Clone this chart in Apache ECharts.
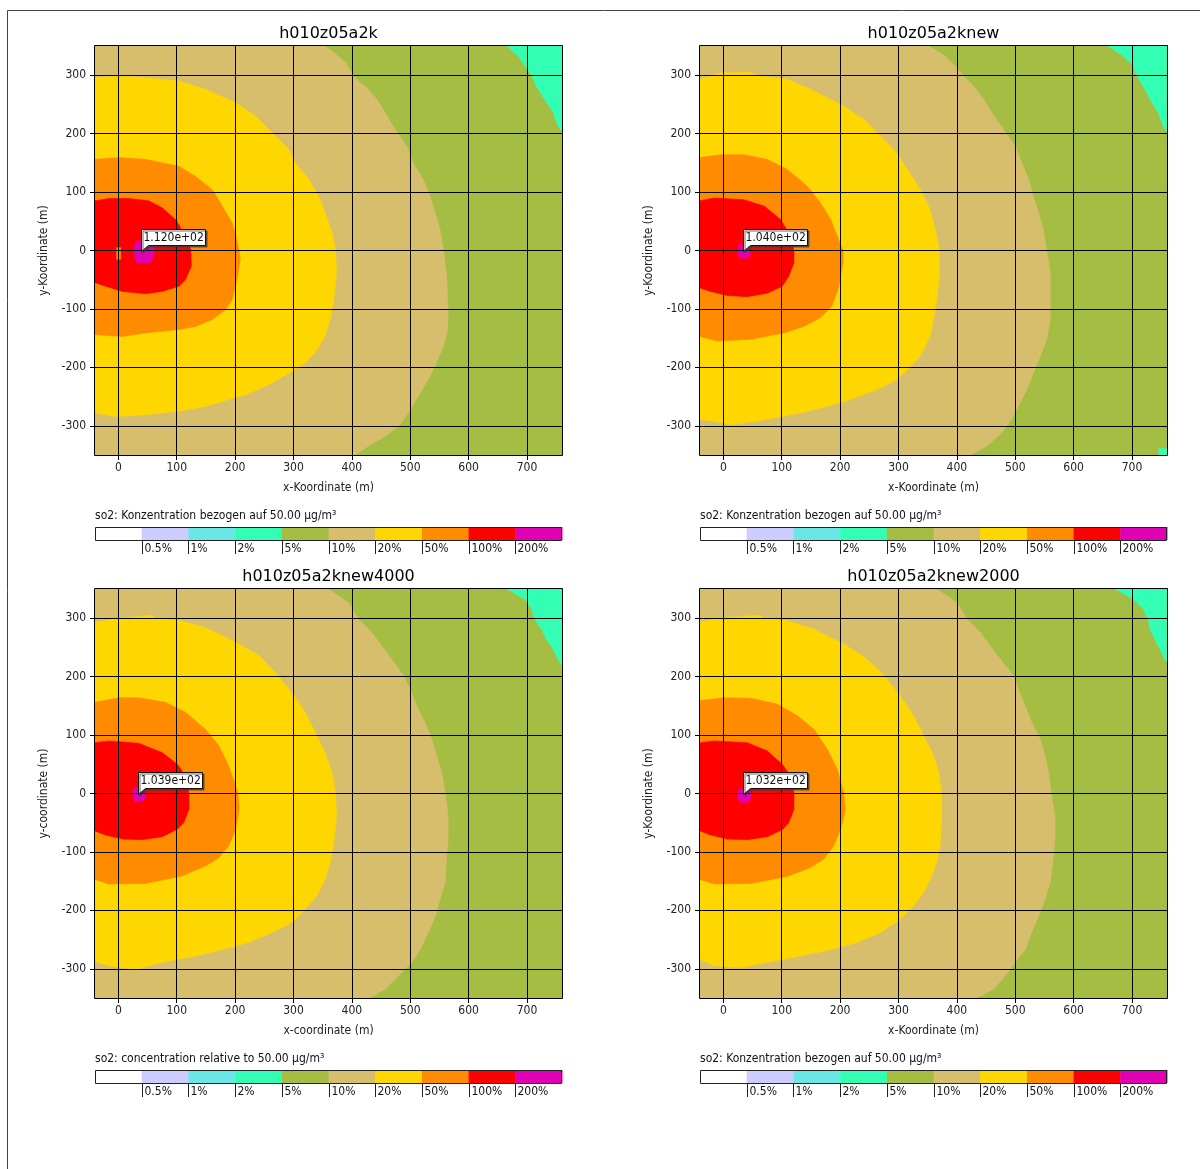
<!DOCTYPE html>
<html>
<head>
<meta charset="utf-8">
<title>so2 Konzentration</title>
<script src="https://cdn.jsdelivr.net/npm/echarts@6/dist/echarts.min.js"></script>
<style>
  html, body { margin: 0; padding: 0; background: #ffffff; }
  #chart { width: 1200px; height: 1169px; }
</style>
</head>
<body>
<div id="chart"></div>
<script>
// ---- computational domain (m) and axis ticks ----
const X_EXTENT = [-40, 760];
const Y_EXTENT = [-350, 350];
const X_TICKS = [0, 100, 200, 300, 400, 500, 600, 700];
const Y_TICKS = [-300, -200, -100, 0, 100, 200, 300];

// ---- concentration classes (relative to 50.00 µg/m³) ----
const CLASS_LABELS = ['0.5%', '1%', '2%', '5%', '10%', '20%', '50%', '100%', '200%'];

// ---- runs ----
const TITLES = ['h010z05a2k', 'h010z05a2knew', 'h010z05a2knew4000', 'h010z05a2knew2000'];
const X_NAMES = ['x-Koordinate (m)', 'x-Koordinate (m)', 'x-coordinate (m)', 'x-Koordinate (m)'];
const Y_NAMES = ['y-Koordinate (m)', 'y-Koordinate (m)', 'y-coordinate (m)', 'y-Koordinate (m)'];
const LEGEND_TITLES = [
  'so2: Konzentration bezogen auf 50.00 µg/m³',
  'so2: Konzentration bezogen auf 50.00 µg/m³',
  'so2: concentration relative to 50.00 µg/m³',
  'so2: Konzentration bezogen auf 50.00 µg/m³'
];

// maximum value of each run and its location (x, y in m)
const MAX_VALUES = [112.0, 104.0, 103.9, 103.2];
const MAX_X = [39, 34, 34, 34];
const MAX_Y = [-1, 0, 0, 0];

// ---- isoline outlines, [x, y] in m ----
// run h010z05a2k
const a_below5 = [[665,350],[760,350],[760,204],[753,213],[745,236],[730,259],[716,281],[708,300],[696,316],[685,333]];
const a_above10 = [[-40,350],[354,350],[369,339],[389,322],[400,304],[408,293],[428,276],[443,259],[457,236],[474,207],[494,179],[505,150],[522,122],[534,93],[543,64],[551,36],[557,0],[562,-38],[564,-78],[565,-107],[564,-135],[557,-164],[545,-192],[531,-221],[514,-249],[497,-278],[480,-301],[457,-318],[428,-335],[406,-350],[-40,-350]];
const a_above20 = [[-40,296],[-5,298],[30,297],[104,290],[149,276],[201,253],[235,230],[263,202],[292,173],[303,150],[326,122],[343,93],[354,65],[366,30],[372,0],[374,-38],[369,-84],[363,-118],[354,-147],[337,-175],[320,-192],[297,-207],[263,-227],[218,-247],[189,-255],[149,-267],[104,-275],[47,-281],[-5,-284],[-40,-278]];
const a_above50 = [[-40,156],[1,159],[47,156],[104,144],[132,127],[161,104],[178,76],[195,47],[203,19],[207,0],[209,-15],[203,-50],[195,-84],[184,-101],[161,-118],[132,-130],[104,-135],[47,-141],[7,-147],[-40,-144]];
const a_above100 = [[-40,85],[-16,89],[18,89],[52,85],[75,73],[98,53],[112,30],[124,2],[125,-27],[115,-50],[104,-61],[75,-70],[47,-74],[7,-70],[-22,-61],[-40,-55]];
const a_above200 = [[30,16],[52,16],[61,7],[61,-8],[55,-21],[32,-21],[27,-8],[27,7]];
const a_dip50 = [[-3,5],[4,5],[4,-15],[-3,-15]];

// run h010z05a2knew
const b_below5 = [[659,350],[760,350],[760,203],[753,213],[745,236],[731,259],[719,281],[708,300],[702,316],[685,333]];
const b_below5_corner = [[746,-339],[760,-339],[760,-350],[746,-350]];
const b_above10 = [[-40,350],[352,350],[380,333],[397,316],[411,299],[429,281],[446,259],[460,236],[480,207],[500,179],[511,150],[523,122],[531,93],[540,65],[548,36],[554,0],[560,-38],[560,-78],[560,-118],[554,-152],[543,-181],[531,-210],[520,-238],[505,-267],[494,-289],[477,-312],[451,-335],[423,-350],[-40,-350]];
const b_above20 = [[-40,293],[-5,304],[47,305],[58,299],[109,293],[149,276],[201,250],[241,224],[269,196],[297,167],[315,139],[337,105],[354,70],[363,36],[370,0],[370,-38],[366,-84],[360,-118],[354,-147],[337,-181],[315,-204],[297,-221],[263,-238],[218,-255],[178,-267],[132,-278],[75,-289],[18,-298],[-40,-289]];
const b_above50 = [[-40,159],[-5,164],[35,164],[75,156],[109,139],[144,110],[166,82],[184,53],[195,25],[205,0],[205,-21],[198,-61],[186,-95],[166,-115],[138,-130],[104,-141],[47,-152],[-10,-155],[-40,-147]];
const b_above100 = [[-40,85],[-16,90],[35,87],[70,76],[98,53],[112,30],[121,0],[121,-21],[112,-44],[101,-61],[75,-73],[41,-79],[7,-77],[-22,-70],[-40,-64]];
const b_above200 = [[27,10],[38,10],[46,2],[46,-8],[40,-13],[28,-13],[25,-5],[25,5]];

// run h010z05a2knew4000
const c_below5 = [[665,350],[760,350],[760,219],[753,230],[745,247],[733,264],[725,281],[713,298],[708,316],[696,333]];
const c_above10 = [[-40,350],[360,350],[394,327],[411,299],[434,276],[451,253],[468,230],[488,202],[500,179],[511,150],[525,122],[537,93],[545,65],[554,36],[560,0],[565,-38],[565,-78],[562,-112],[560,-152],[551,-181],[543,-210],[531,-238],[517,-267],[503,-289],[480,-312],[457,-335],[431,-350],[-40,-350]];
const c_above20 = [[-40,293],[-5,299],[58,305],[64,299],[104,296],[149,284],[201,259],[241,236],[269,207],[297,173],[320,139],[337,105],[354,70],[366,36],[372,0],[374,-38],[369,-84],[363,-118],[354,-147],[340,-175],[320,-198],[297,-221],[263,-238],[223,-255],[178,-267],[132,-278],[75,-289],[30,-301],[-16,-295],[-40,-287]];
const c_above50 = [[-40,156],[1,164],[35,164],[81,156],[115,139],[149,110],[172,82],[189,47],[201,13],[205,0],[207,-27],[201,-61],[189,-90],[172,-110],[149,-124],[109,-141],[47,-154],[-16,-155],[-40,-147]];
const c_above100 = [[-40,87],[-16,90],[35,86],[75,70],[101,50],[115,30],[121,0],[121,-27],[112,-50],[101,-61],[75,-74],[41,-79],[7,-78],[-22,-71],[-40,-64]];
const c_above200 = [[27,10],[40,10],[46,3],[46,-8],[40,-14],[28,-14],[25,-5],[25,5]];

// run h010z05a2knew2000
const d_below5 = [[671,350],[760,350],[760,224],[756,230],[748,247],[739,264],[731,281],[728,298],[719,316],[702,333]];
const d_above10 = [[-40,350],[366,350],[400,327],[417,299],[440,276],[457,253],[474,230],[497,202],[505,179],[517,150],[528,122],[543,93],[551,65],[557,36],[562,0],[568,-38],[568,-78],[565,-112],[560,-152],[551,-181],[540,-210],[528,-238],[517,-267],[500,-289],[483,-312],[463,-335],[434,-350],[-40,-350]];
const d_above20 = [[-40,293],[-5,301],[64,305],[70,299],[109,296],[155,281],[206,256],[246,230],[275,202],[303,167],[326,133],[343,99],[360,65],[369,36],[374,0],[374,-38],[372,-84],[366,-118],[354,-147],[343,-170],[326,-192],[303,-215],[269,-238],[229,-255],[184,-267],[132,-278],[75,-289],[30,-298],[-16,-295],[-40,-284]];
const d_above50 = [[-40,159],[1,164],[47,163],[92,153],[127,133],[155,110],[178,76],[195,42],[203,13],[206,0],[209,-27],[201,-61],[189,-90],[172,-112],[149,-127],[109,-142],[47,-154],[-16,-155],[-40,-147]];
const d_above100 = [[-40,87],[-16,90],[41,87],[75,73],[101,50],[115,30],[121,0],[121,-27],[112,-50],[101,-62],[75,-74],[41,-79],[7,-78],[-22,-71],[-40,-64]];
const d_above200 = [[27,8],[40,8],[47,1],[47,-10],[40,-15],[28,-15],[25,-6],[25,4]];

// ---- styling ----
// class colours: <0.5 %, 0.5 %, 1 %, 2 %, 5 %, 10 %, 20 %, 50 %, 100 %, 200 %
const CLASS_COLORS = ['#ffffff', '#ccccff', '#6ae6e6', '#33ffb4', '#a5bd42', '#d6be6c', '#ffd700', '#ff8c00', '#ff0000', '#e000b4'];
const SMALL_FONT = "'DejaVu Sans Condensed', 'Liberation Sans Narrow', 'Liberation Sans', sans-serif";
const TITLE_FONT = "'DejaVu Sans', Verdana, sans-serif";
const PLOT_LEFT = [95, 700, 95, 700];
const PLOT_TOP = [46, 46, 589, 589];
const PLOT_W = 467;
const PLOT_H = 409;

// whole domain (field is above 5 % everywhere not covered by a patch)
const DOMAIN = [[X_EXTENT[0], Y_EXTENT[0]], [X_EXTENT[1], Y_EXTENT[0]], [X_EXTENT[1], Y_EXTENT[1]], [X_EXTENT[0], Y_EXTENT[1]]];

// class index 3 = 2–5 %, 4 = 5–10 %, 5 = 10–20 %, 6 = 20–50 %, 7 = 50–100 %, 8 = 100–200 %, 9 = ≥200 %
// painted in order, later patches on top
const PANEL_PATCHES = [
  [[4, DOMAIN], [3, a_below5], [5, a_above10], [6, a_above20], [7, a_above50], [8, a_above100], [9, a_above200], [7, a_dip50]],
  [[4, DOMAIN], [3, b_below5], [3, b_below5_corner], [5, b_above10], [6, b_above20], [7, b_above50], [8, b_above100], [9, b_above200]],
  [[4, DOMAIN], [3, c_below5], [5, c_above10], [6, c_above20], [7, c_above50], [8, c_above100], [9, c_above200]],
  [[4, DOMAIN], [3, d_below5], [5, d_above10], [6, d_above20], [7, d_above50], [8, d_above100], [9, d_above200]]
];

function formatExp(v) {
  const parts = v.toExponential(3).split('e');
  const n = parseInt(parts[1], 10);
  return parts[0] + 'e' + (n < 0 ? '-' : '+') + String(Math.abs(n)).padStart(2, '0');
}

const chart = echarts.init(document.getElementById('chart'), null, { renderer: 'canvas' });

const grids = [], xAxes = [], yAxes = [], series = [], titles = [], graphics = [];

// outer frame
graphics.push({
  type: 'rect', z: 100, silent: true,
  shape: { x: 7.5, y: 10.5, width: 1400, height: 1400 },
  style: { fill: 'none', stroke: '#444444', lineWidth: 1 }
});

TITLES.forEach((title, i) => {
  const left = PLOT_LEFT[i], top = PLOT_TOP[i];
  const patches = PANEL_PATCHES[i];

  grids.push({ left: left, top: top, width: PLOT_W, height: PLOT_H, containLabel: false });

  titles.push({
    text: title,
    left: left + PLOT_W / 2,
    top: top - 20,
    textAlign: 'center',
    padding: 0,
    textStyle: { fontFamily: TITLE_FONT, fontSize: 16, fontWeight: 'normal', color: '#000000' }
  });

  xAxes.push({
    type: 'value', gridIndex: i, min: X_EXTENT[0], max: X_EXTENT[1], splitNumber: 8, z: 5,
    name: X_NAMES[i], nameLocation: 'middle', nameGap: 27,
    nameTextStyle: { fontFamily: SMALL_FONT, fontSize: 12, color: '#222222' },
    axisLine: { show: false, onZero: false },
    axisTick: { show: true, length: 5, customValues: X_TICKS, lineStyle: { color: '#000000', width: 1 } },
    axisLabel: { customValues: X_TICKS, margin: 7, fontFamily: SMALL_FONT, fontSize: 12, color: '#222222' },
    splitLine: { show: true, lineStyle: { color: '#000000', width: 1 } }
  });

  yAxes.push({
    type: 'value', gridIndex: i, min: Y_EXTENT[0], max: Y_EXTENT[1], splitNumber: 7, z: 5,
    name: Y_NAMES[i], nameLocation: 'middle', nameGap: 45,
    nameTextStyle: { fontFamily: SMALL_FONT, fontSize: 12, color: '#222222' },
    axisLine: { show: false, onZero: false },
    axisTick: { show: true, length: 5, customValues: Y_TICKS, lineStyle: { color: '#000000', width: 1 } },
    axisLabel: { customValues: Y_TICKS, margin: 9, fontFamily: SMALL_FONT, fontSize: 12, color: '#222222' },
    splitLine: { show: true, lineStyle: { color: '#000000', width: 1 } }
  });

  // concentration classes as filled isoline patches
  series.push({
    type: 'custom', name: title, xAxisIndex: i, yAxisIndex: i, z: 2, clip: true, silent: true,
    data: patches.map(p => [p[1][0][0], p[1][0][1], p[0]]),
    renderItem: function (params, api) {
      const patch = patches[params.dataIndex];
      const pts = patch[1].map(pt => api.coord(pt));
      const color = CLASS_COLORS[patch[0]];
      return { type: 'polygon', shape: { points: pts }, style: { fill: color, stroke: color, lineWidth: 0.6 } };
    }
  });

  // callout with the maximum value
  series.push({
    type: 'custom', name: title + ' max', xAxisIndex: i, yAxisIndex: i, z: 10, silent: true,
    data: [[MAX_X[i], MAX_Y[i], MAX_VALUES[i]]],
    renderItem: function (params, api) {
      const p = api.coord([api.value(0), api.value(1)]);
      const tx = Math.round(p[0]) + 0.5, ty = Math.round(p[1]) + 0.5;
      const w = 64, h = 16, gap = 6;
      const boxTop = ty - gap - h;
      return {
        type: 'group',
        children: [
          {
            type: 'polygon',
            shape: { points: [[tx, ty], [tx, boxTop], [tx + w, boxTop], [tx + w, ty - gap], [tx + 7, ty - gap]] },
            style: { fill: '#ffffff', stroke: '#111111', lineWidth: 1, shadowColor: 'rgba(60,60,60,0.75)', shadowOffsetX: 1.5, shadowOffsetY: 1.5, shadowBlur: 0 }
          },
          {
            type: 'text',
            x: tx + 2, y: boxTop + h / 2 + 0.5,
            style: { text: formatExp(api.value(2)), font: '12px ' + SMALL_FONT, fill: '#111111', align: 'left', verticalAlign: 'middle' }
          }
        ]
      };
    }
  });

  // plot frame
  graphics.push({
    type: 'rect', z: 50, silent: true,
    shape: { x: left - 0.5, y: top - 0.5, width: PLOT_W + 1, height: PLOT_H + 1 },
    style: { fill: 'none', stroke: '#000000', lineWidth: 1 }
  });

  // colour key below the plot
  const keyTop = top + 481;
  const keyH = 13;
  const cellW = PLOT_W / CLASS_COLORS.length;
  graphics.push({
    type: 'text', z: 50, silent: true, x: left, y: top + 470,
    style: { text: LEGEND_TITLES[i], font: '12px ' + SMALL_FONT, fill: '#111111', align: 'left', verticalAlign: 'middle' }
  });
  CLASS_COLORS.forEach((c, k) => {
    graphics.push({
      type: 'rect', z: 50, silent: true,
      shape: { x: left + k * cellW, y: keyTop, width: cellW + 0.5, height: keyH },
      style: { fill: c }
    });
  });
  graphics.push({
    type: 'rect', z: 51, silent: true,
    shape: { x: left + 0.5, y: keyTop + 0.5, width: PLOT_W - 1, height: keyH },
    style: { fill: 'none', stroke: '#222222', lineWidth: 1 }
  });
  CLASS_LABELS.forEach((lab, k) => {
    const bx = Math.round(left + (k + 1) * cellW) + 0.5;
    graphics.push({
      type: 'line', z: 51, silent: true,
      shape: { x1: bx, y1: keyTop + keyH, x2: bx, y2: keyTop + keyH + 14 },
      style: { stroke: '#222222', lineWidth: 1 }
    });
    graphics.push({
      type: 'text', z: 51, silent: true, x: bx + 2, y: keyTop + keyH + 9,
      style: { text: lab, font: '12px ' + SMALL_FONT, fill: '#111111', align: 'left', verticalAlign: 'middle' }
    });
  });
});

chart.setOption({
  animation: false,
  backgroundColor: '#ffffff',
  title: titles,
  grid: grids,
  xAxis: xAxes,
  yAxis: yAxes,
  series: series,
  graphic: { elements: graphics }
});
</script>
</body>
</html>
